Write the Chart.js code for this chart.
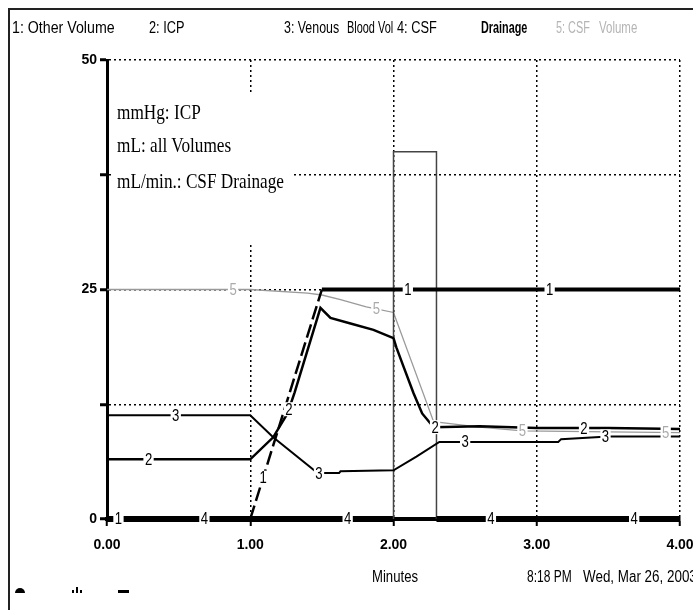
<!DOCTYPE html>
<html><head><meta charset="utf-8">
<script src="https://cdn.jsdelivr.net/npm/chart.js@4.4.1/dist/chart.umd.min.js"></script>
<style>
html,body{margin:0;padding:0;background:#fff;}
#wrap{position:relative;width:693px;height:610px;overflow:hidden;background:#fff;}
#c{position:absolute;left:0;top:0;}
.t{position:absolute;white-space:nowrap;font-family:"Liberation Sans",Arial,sans-serif;font-size:16px;line-height:16px;color:#000;transform-origin:0 0;}
.s{position:absolute;white-space:nowrap;font-family:"Liberation Serif","Times New Roman",serif;font-size:21px;line-height:21px;color:#000;transform:scaleX(0.82);transform-origin:0 0;}
#frame{position:absolute;left:8px;top:8px;right:-4px;bottom:-4px;border-left:2px solid #222;border-top:2px solid #222;}
#note{position:absolute;left:112px;top:92px;width:181px;height:153px;background:#fff;}
.ic{position:absolute;background:#000;}
</style></head>
<body>
<div id="wrap">
<canvas id="c" width="693" height="610"></canvas>
<div id="frame"></div>
<div class="t" data-w="103" style="left:12px;top:20px;">1: Other Volume</div>
<div class="t" data-w="35" style="left:149px;top:20px;">2: ICP</div>
<div class="t" data-w="55" style="left:284px;top:20px;">3: Venous</div>
<div class="t" data-w="28" style="left:347px;top:20px;">Blood</div>
<div class="t" data-w="15" style="left:378px;top:20px;">Vol</div>
<div class="t" data-w="40" style="left:397px;top:20px;">4: CSF</div>
<div class="t" data-w="46" style="left:481px;top:20px;font-weight:bold;">Drainage</div>
<div class="t" data-w="34" style="left:556px;top:20px;color:#b4b4b4;">5: CSF</div>
<div class="t" data-w="38" style="left:599px;top:20px;color:#b4b4b4;">Volume</div>
<div id="note"></div>
<div class="s" style="left:117px;top:102px;">mmHg: ICP</div>
<div class="s" style="left:117px;top:135px;">mL: all Volumes</div>
<div class="s" style="left:117px;top:171px;">mL/min.: CSF Drainage</div>
<div class="t" data-w="46" style="left:372px;top:569px;">Minutes</div>
<div class="t" data-w="45" style="left:527px;top:569px;">8:18 PM</div>
<div class="t" data-w="114" style="left:583px;top:569px;">Wed, Mar 26, 2003</div>
<div class="ic" style="left:15px;top:588px;width:10px;height:5px;border-radius:5px 5px 0 0;"></div>
<div class="ic" style="left:72px;top:590px;width:2px;height:3px;"></div>
<div class="ic" style="left:76px;top:587px;width:2px;height:6px;"></div>
<div class="ic" style="left:80px;top:590px;width:2px;height:3px;"></div>
<div class="ic" style="left:118px;top:590px;width:11px;height:3px;"></div>
</div>
<script>
// ---- data ----
const tickMinutes = [0, 1, 2, 3, 4];
const tickLabels = ['0.00', '1.00', '2.00', '3.00', '4.00'];
const yTickLabels = ['0', '', '25', '', '50'];
const seriesTags = ['1', '2', '3', '4', '5'];
const seriesNames = ['Other Volume', 'ICP', 'Venous Blood Vol', 'CSF Drainage', 'CSF Volume'];

const otherVolumeMin = [0, 1.0, 1.5, 4.0];
const otherVolumeVal = [0, 0, 25, 25];

const icpMin = [0, 1.0, 1.16, 1.26, 1.31, 1.49, 1.56, 1.70, 1.86, 2.0, 2.02, 2.07, 2.14, 2.2, 2.28, 2.6, 3.0, 3.5, 4.0];
const icpVal = [6.5, 6.5, 8.9, 11.5, 13.8, 23.0, 21.9, 21.3, 20.6, 19.7, 18.7, 16.6, 13.7, 11.5, 10.0, 10.1, 9.9, 9.9, 9.8];

const venousMin = [0, 1.0, 1.16, 1.47, 1.62, 1.63, 2.0, 2.16, 2.32, 2.6, 3.15, 3.17, 3.5, 4.0];
const venousVal = [11.3, 11.3, 8.9, 5.0, 5.0, 5.2, 5.3, 6.8, 8.4, 8.4, 8.4, 8.7, 9.0, 9.0];

const drainageMin = [0, 2.0, 2.0, 2.3, 2.3, 4.0];
const drainageVal = [0, 0, 40, 40, 0, 0];

const csfVolMin = [0, 1.0, 1.4, 1.5, 1.63, 1.81, 2.0, 2.28, 2.6, 2.9, 3.5, 4.0];
const csfVolVal = [25, 25, 24.6, 24.4, 23.9, 23.1, 22.5, 10.6, 10.0, 9.6, 9.5, 9.4];

// where the numbered tags sit along each line (minutes)
const tagMinutes = [
  [0.08, 1.09, 2.1, 3.09],
  [0.29, 1.27, 2.29, 3.33],
  [0.48, 1.48, 2.5, 3.48],
  [0.68, 1.68, 2.68, 3.68],
  [0.88, 1.88, 2.9, 3.9]
];

// fit header/footer words to their measured widths
document.querySelectorAll('.t[data-w]').forEach(el => {
  const w = el.offsetWidth;
  if (w > 0) el.style.transform = 'scaleX(' + (parseFloat(el.dataset.w) / w) + ')';
});

// ---- build ----
function pts(xs, ys) { return xs.map((x, i) => ({ x: x, y: ys[i] })); }
function valueAt(data, m) {
  for (let i = 0; i < data.length - 1; i++) {
    const a = data[i], b = data[i + 1];
    if (m >= a.x && m <= b.x && b.x !== a.x) {
      return a.y + (b.y - a.y) * (m - a.x) / (b.x - a.x);
    }
  }
  return data[data.length - 1].y;
}

const FONT = '"Liberation Sans",Arial,sans-serif';

const datasets = [
  {
    label: seriesNames[0], data: pts(otherVolumeMin, otherVolumeVal),
    borderColor: '#000', borderWidth: 4, tagColor: '#000',
    segment: {
      borderDash: c => (c.p0.parsed.y !== c.p1.parsed.y ? [14, 5] : []),
      borderWidth: c => (c.p0.parsed.y !== c.p1.parsed.y ? 2.5 : 4)
    }
  },
  { label: seriesNames[1], data: pts(icpMin, icpVal), borderColor: '#000', borderWidth: 2.5, tagColor: '#000' },
  { label: seriesNames[2], data: pts(venousMin, venousVal), borderColor: '#000', borderWidth: 2, tagColor: '#000' },
  {
    label: seriesNames[3], data: pts(drainageMin, drainageVal),
    borderColor: '#000', borderWidth: 6, tagColor: '#000',
    segment: {
      borderWidth: c => (c.p0.parsed.y === 0 && c.p1.parsed.y === 0 ? 6 : 1.5),
      borderColor: c => (c.p0.parsed.y === 0 && c.p1.parsed.y === 0 ? '#000' : '#444')
    }
  },
  { label: seriesNames[4], data: pts(csfVolMin, csfVolVal), borderColor: '#9a9a9a', borderWidth: 1.3, tagColor: '#aaaaaa' }
];
datasets.forEach(d => { d.pointRadius = 0; d.tension = 0; d.fill = false; d.clip = 10; });

const tagPlugin = {
  id: 'tags',
  afterDatasetsDraw(chart) {
    const { ctx, scales: { x, y } } = chart;
    ctx.save();
    ctx.font = '16px ' + FONT;
    ctx.textAlign = 'center';
    ctx.textBaseline = 'middle';
    chart.data.datasets.forEach((ds, i) => {
      tagMinutes[i].forEach(m => {
        const v = valueAt(ds.data, m);
        const px = x.getPixelForValue(m), py = y.getPixelForValue(v);
        const w = ctx.measureText(seriesTags[i]).width * 0.82 + 3;
        ctx.fillStyle = '#fff';
        ctx.fillRect(px - w / 2, py - 7, w, 14);
        ctx.save();
        ctx.translate(px, py + 1);
        ctx.scale(0.82, 1);
        ctx.fillStyle = ds.tagColor;
        ctx.fillText(seriesTags[i], 0, 0);
        ctx.restore();
      });
    });
    ctx.restore();
  }
};

new Chart(document.getElementById('c'), {
  type: 'line',
  data: { datasets: datasets },
  options: {
    responsive: false,
    animation: false,
    events: [],
    layout: { padding: { top: 60, right: 13, bottom: 0, left: 0 } },
    plugins: { legend: { display: false }, tooltip: { enabled: false } },
    scales: {
      x: {
        type: 'linear', min: 0, max: 4,
        afterFit: s => { s.height = 91; s.paddingLeft = 0; s.paddingRight = 0; },
        afterBuildTicks: s => { s.ticks = tickMinutes.map(v => ({ value: v })); },
        ticks: {
          autoSkip: false, maxRotation: 0, padding: 11,
          callback: (v, i) => tickLabels[i],
          color: '#000', font: { family: FONT, size: 14, weight: 'bold' }
        },
        grid: { color: '#000', lineWidth: 1.5, tickLength: 7, tickWidth: 2, tickColor: '#000' },
        border: { display: true, color: '#000', width: 4, dash: [2, 3] }
      },
      y: {
        type: 'linear', min: 0, max: 50,
        afterFit: s => { s.width = 107; },
        ticks: {
          stepSize: 12.5, padding: 3,
          callback: (v, i) => yTickLabels[i],
          color: '#000', font: { family: FONT, size: 14, weight: 'bold' }
        },
        grid: { color: '#000', lineWidth: 1.5, tickLength: 7, tickWidth: 3, tickColor: '#000' },
        border: { display: true, color: '#000', width: 3, dash: [2, 3] }
      }
    }
  },
  plugins: [tagPlugin]
});
</script>
</body></html>
